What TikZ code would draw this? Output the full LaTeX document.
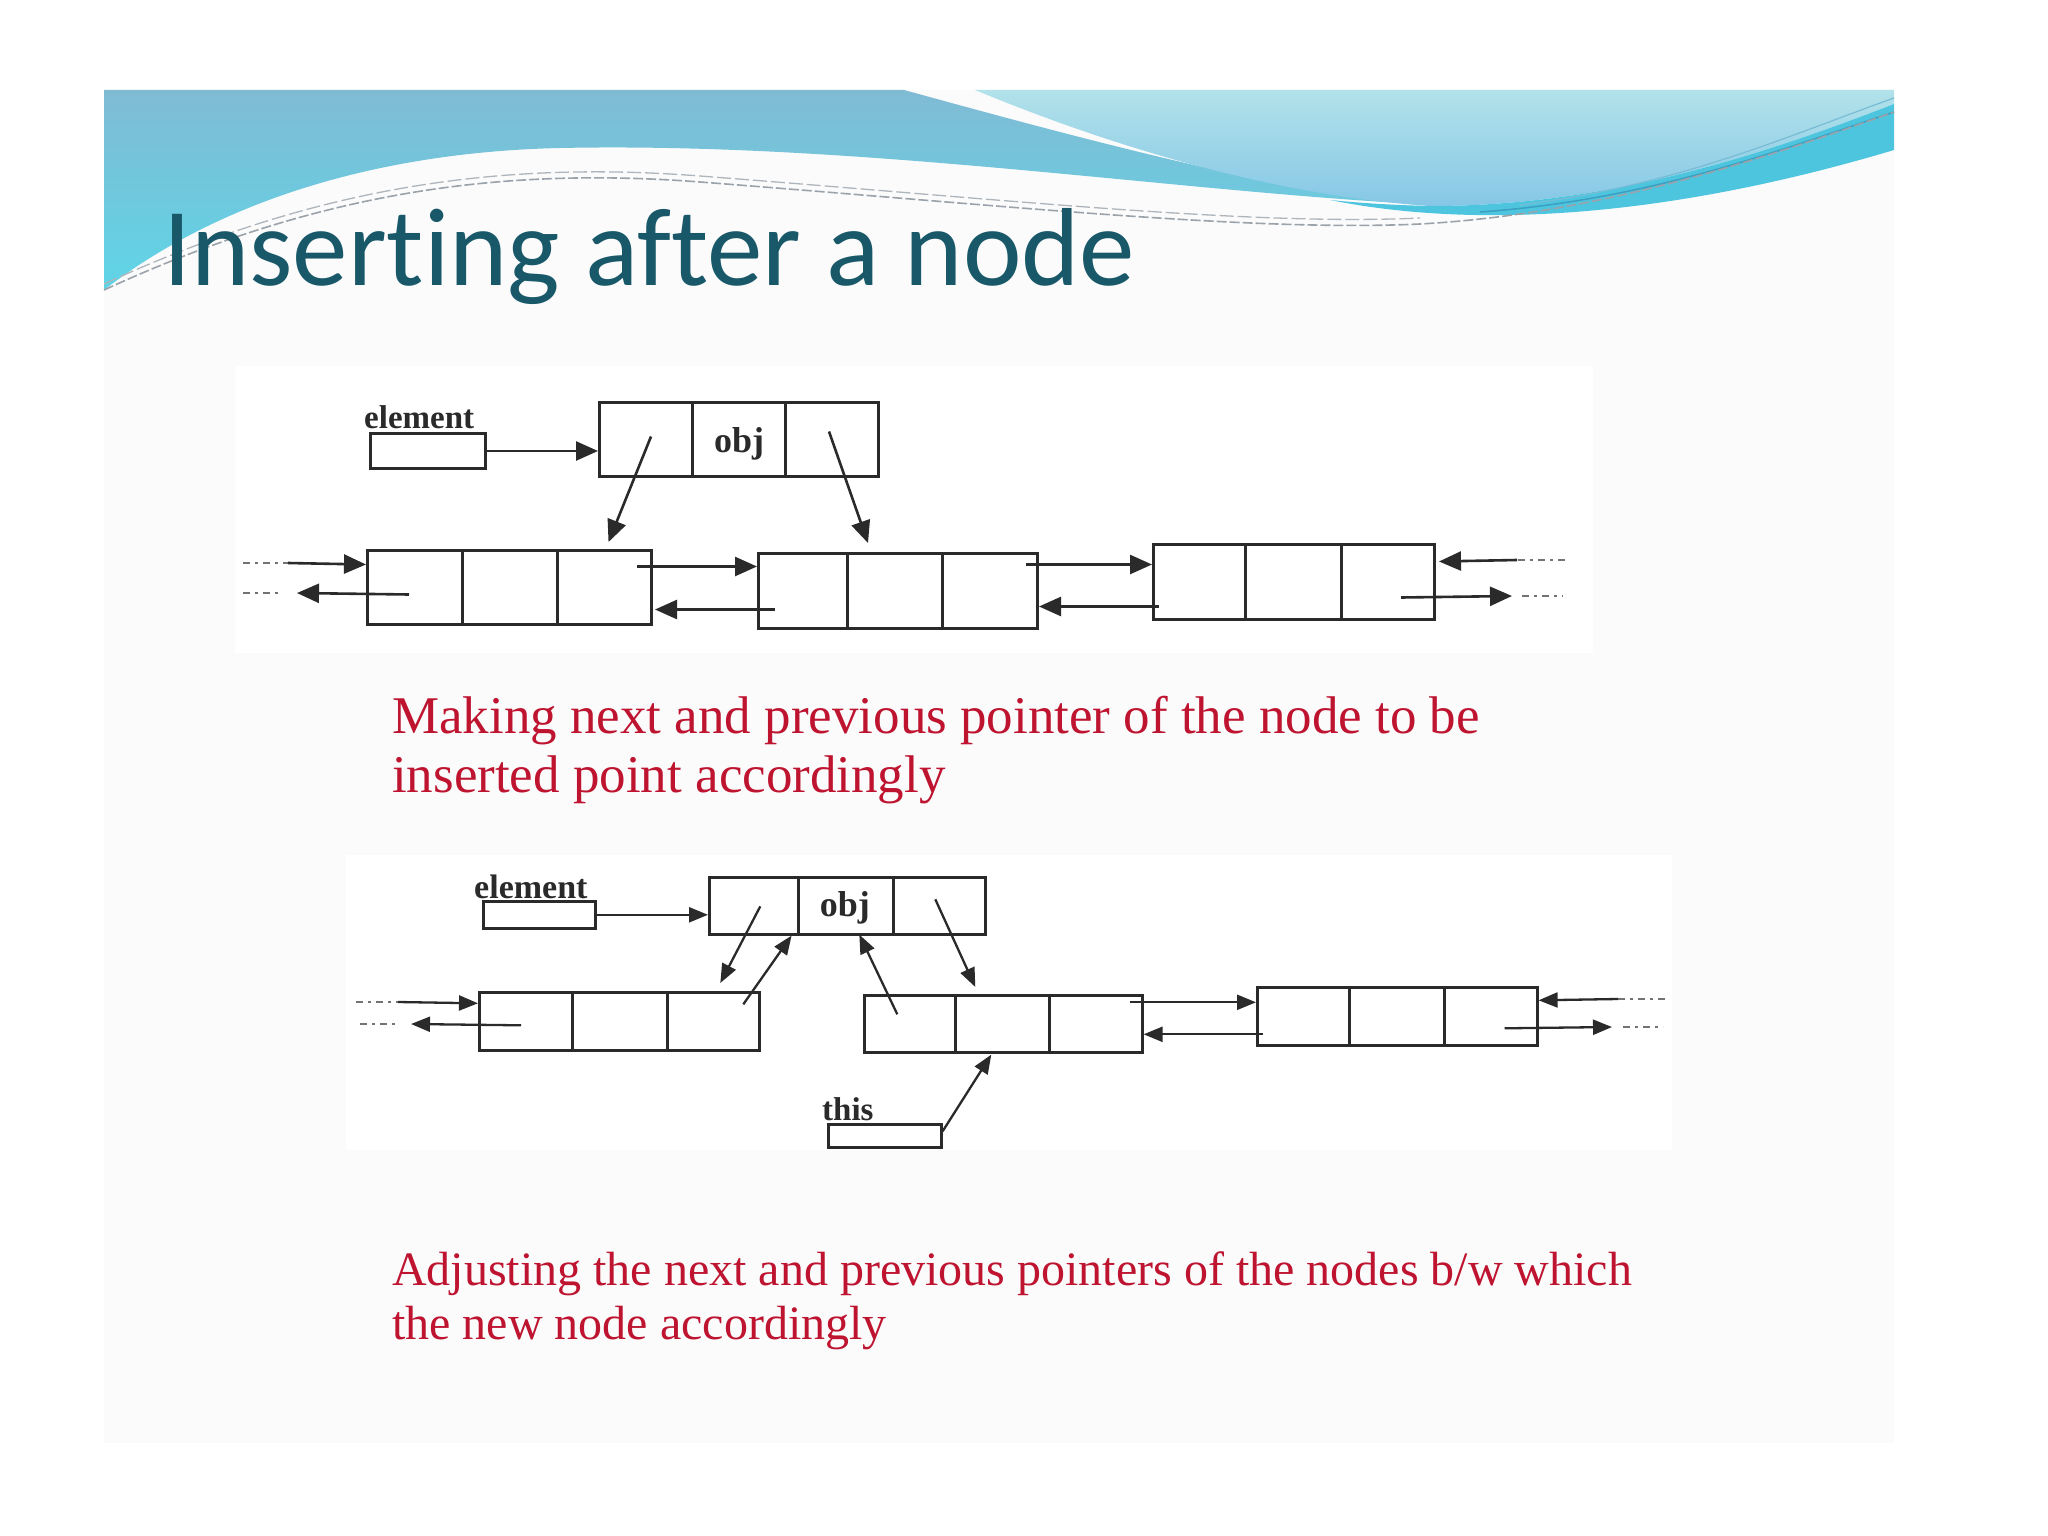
\documentclass[tikz,border=0pt]{standalone}
\usepackage{fontspec}
\setmainfont{Liberation Serif}
\newfontfamily\titlefont[Ligatures=NoCommon]{Carlito}
\usetikzlibrary{arrows.meta,calc}
\definecolor{linec}{HTML}{2A2A2A}
\definecolor{redc}{HTML}{BE1430}
\definecolor{titlec}{HTML}{185868}
\definecolor{slidebg}{HTML}{FBFBFC}
\definecolor{blueTop}{HTML}{80BBD4}
\definecolor{blueBot}{HTML}{5FD5E7}
\definecolor{lightTop}{HTML}{B2E2EA}
\definecolor{lightBot}{HTML}{86C7E6}
\definecolor{cyanband}{HTML}{4EC5DE}
\definecolor{darkstroke}{HTML}{3C9FC2}
\definecolor{grayline}{HTML}{9AA2AA}
\begin{document}
\begin{tikzpicture}[x=1pt,y=-1pt,
  cell/.style={draw=linec, line width=3pt, inner sep=0pt, anchor=north west},
  cellB/.style={cell, line width=2.6pt},
  arrA/.style={draw=linec, line width=2.6pt, -{Triangle[length=22pt,width=19pt]}},
  arrB/.style={draw=linec, line width=2.3pt, -{Triangle[length=19pt,width=15pt]}},
  dotend/.style={draw=gray!90!black, line width=2.2pt, dash pattern=on 7pt off 5pt on 3pt off 5pt},
  lbl/.style={font=\fontsize{33}{36}\selectfont\bfseries, inner sep=0pt, text=linec, anchor=base west},
  objtxt/.style={font=\fontsize{36}{40}\selectfont\bfseries, text=linec},
  redA/.style={font=\fontsize{53}{60}\selectfont, text=redc, inner sep=0pt, anchor=base west},
  redB/.style={font=\fontsize{48}{54}\selectfont, text=redc, inner sep=0pt, anchor=base west}]
\useasboundingbox (0,0) rectangle (2048,1536);
\fill[white] (0,0) rectangle (2048,1536);
\fill[slidebg] (104,90) rectangle (1894,1443);
% diagram backgrounds
\fill[white] (235,366) rectangle (1593,653);
\fill[white] (346,855) rectangle (1672,1150);

% ---- banner ----
\shade[top color=blueTop, bottom color=blueBot]
  (104,90) -- (904,90) .. controls (1050,130) and (1250,185) .. (1400,203)
  .. controls (1150,188) and (850,142) .. (560,148)
  .. controls (380,152) and (220,200) .. (104,290) -- cycle;
\shade[top color=lightTop, bottom color=lightBot]
  (975,90) .. controls (1120,150) and (1280,196) .. (1430,206)
  .. controls (1600,206) and (1750,160) .. (1894,104) -- (1894,90) -- cycle;
\fill[cyanband]
  (1330,200) .. controls (1500,234) and (1700,208) .. (1894,150) -- (1894,104)
  .. controls (1750,160) and (1600,206) .. (1430,206)
  .. controls (1390,205) and (1360,203) .. (1330,200) -- cycle;
\draw[darkstroke, line width=1.5pt] (1480,212) .. controls (1650,200) and (1780,150) .. (1894,112);
\draw[darkstroke!70, line width=1.2pt] (1520,205) .. controls (1680,185) and (1790,135) .. (1894,98);
\draw[grayline, line width=1.6pt, dash pattern=on 10pt off 3pt]
  (104,290) .. controls (300,200) and (480,165) .. (700,182)
  .. controls (1000,205) and (1250,232) .. (1420,224)
  .. controls (1600,214) and (1760,160) .. (1894,112);
\draw[grayline!80, line width=1.3pt, dash pattern=on 14pt off 4pt]
  (104,284) .. controls (300,194) and (480,159) .. (700,176)
  .. controls (1000,199) and (1250,226) .. (1420,218);

% ---- title ----
\node[font=\titlefont\fontsize{111}{120}\selectfont, text=titlec, inner sep=0pt, anchor=base west]
  (title) at (163,285) {Inserting after a node};

% ---- diagram 1 ----
\node[cell, minimum width=115pt, minimum height=35pt] (e1) at (369,432) {};
\node[lbl] (e1l) at (364,428) {element};
\node[cell, minimum width=93pt, minimum height=74pt] (o1a) at (598,401) {};
\node[cell, minimum width=93pt, minimum height=74pt] (o1b) at (691,401) {};
\node[cell, minimum width=93pt, minimum height=74pt] (o1c) at (784,401) {};
\node[objtxt] (o1t) at ($(o1b.center)+(0,4)$) {obj};

\node[cell, minimum width=95pt, minimum height=74pt] (a1) at (366,549) {};
\node[cell, minimum width=95pt, minimum height=74pt] (a2) at (461,549) {};
\node[cell, minimum width=94pt, minimum height=74pt] (a3) at (556,549) {};
\node[cell, minimum width=89pt, minimum height=75pt] (b1) at (757,552) {};
\node[cell, minimum width=95pt, minimum height=75pt] (b2) at (846,552) {};
\node[cell, minimum width=95pt, minimum height=75pt] (b3) at (941,552) {};
\node[cell, minimum width=92pt, minimum height=75pt] (c1) at (1152,543) {};
\node[cell, minimum width=96pt, minimum height=75pt] (c2) at (1244,543) {};
\node[cell, minimum width=93pt, minimum height=75pt] (c3) at (1340,543) {};

\draw[arrA] (e1.east) -- (e1.east -| o1a.west);
\draw[arrA] ($(o1a.center)+(5,-3)$) -- ($(a3.north)+(4,-7)$);
\draw[arrA] ($(o1c.center)+(-3,-8)$) -- ($(b2.north)+(-27,-9)$);

\coordinate (l1a) at (243,563); \coordinate (l1b) at (288,563);
\draw[dotend] (l1a) -- (l1b);
\draw[arrA] (l1b) -- ($(a1.west)+(0,-23)$);
\coordinate (l1c) at (243,593); \coordinate (l1d) at (282,593); \coordinate (l1e) at (297,593);
\draw[dotend] (l1c) -- (l1d);
\draw[arrA] ($(a1.west)+(43,7)$) -- (l1e);
\draw[arrA] ($(a3.east)+(-16,-21)$) -- ($(b1.west)+(0,-24.5)$);
\draw[arrA] ($(b1.west)+(18,18.5)$) -- ($(a3.east)+(2,22)$);
\draw[arrA] ($(b3.east)+(-13,-26.5)$) -- ($(c1.west)+(0,-17.5)$);
\draw[arrA] ($(c1.west)+(7,24.5)$) -- ($(b3.east)+(0,15.5)$);
\coordinate (r1a) at (1565,560); \coordinate (r1b) at (1517,560);
\draw[dotend] (r1a) -- (r1b);
\draw[arrA] (r1b) -- ($(c3.east)+(3,-20.5)$);
\coordinate (r1c) at (1512,596); \coordinate (r1d) at (1522,596); \coordinate (r1e) at (1563,596);
\draw[arrA] ($(c3.east)+(-35,15.5)$) -- (r1c);
\draw[dotend] (r1d) -- (r1e);

% ---- text 1 ----
\node[redA] (t1a) at (392,733) {Making next and previous pointer of the node to be};
\node[redA] (t1b) at (392,792) {inserted point accordingly};

% ---- diagram 2 ----
\node[cellB, minimum width=112pt, minimum height=27pt] (e2) at (482,900) {};
\node[lbl, font=\fontsize{34}{36}\selectfont\bfseries] (e2l) at (474,898) {element};
\node[cellB, minimum width=89pt, minimum height=57pt] (o2a) at (708,876) {};
\node[cellB, minimum width=95pt, minimum height=57pt] (o2b) at (797,876) {};
\node[cellB, minimum width=92pt, minimum height=57pt] (o2c) at (892,876) {};
\node[objtxt] (o2t) at ($(o2b.center)+(-1,2)$) {obj};

\node[cellB, minimum width=93pt, minimum height=58pt] (p1) at (478,991) {};
\node[cellB, minimum width=95pt, minimum height=58pt] (p2) at (571,991) {};
\node[cellB, minimum width=92pt, minimum height=58pt] (p3) at (666,991) {};
\node[cellB, minimum width=91pt, minimum height=57pt] (q1) at (863,994) {};
\node[cellB, minimum width=94pt, minimum height=57pt] (q2) at (954,994) {};
\node[cellB, minimum width=93pt, minimum height=57pt] (q3) at (1048,994) {};
\node[cellB, minimum width=92pt, minimum height=58pt] (s1) at (1256,986) {};
\node[cellB, minimum width=95pt, minimum height=58pt] (s2) at (1348,986) {};
\node[cellB, minimum width=93pt, minimum height=58pt] (s3) at (1443,986) {};

\node[cellB, minimum width=113pt, minimum height=23pt] (th) at (827,1123) {};
\node[lbl] (thl) at (822,1120) {this};

\draw[arrB] (e2.east) -- (e2.east -| o2a.west);
\draw[arrB] ($(o2a.center)+(6.5,0.5)$) -- ($(p3.north)+(7,-8)$);
\draw[arrB] ($(p3.center)+(30,-17)$) -- ($(o2a.south east)+(-8,0)$);
\draw[arrB] ($(q1.center)+(-12.5,-9.5)$) -- ($(o2b.south)+(13.5,-1)$);
\draw[arrB] ($(o2c.center)+(-4,-6.5)$) -- ($(q2.north)+(-27,-7)$);
\draw[arrB] ($(th.east)+(0,-4.5)$) -- ($(q2.south)+(-11,1)$);

\coordinate (l2a) at (356,1002); \coordinate (l2b) at (398,1002);
\draw[dotend] (l2a) -- (l2b);
\draw[arrB] (l2b) -- ($(p1.west)+(0,-18)$);
\coordinate (l2c) at (360,1024); \coordinate (l2d) at (398,1024); \coordinate (l2e) at (411,1024);
\draw[dotend] (l2c) -- (l2d);
\draw[arrB] ($(p1.west)+(43,4)$) -- (l2e);
\draw[arrB] ($(q3.east)+(-14,-21.5)$) -- ($(s1.west)+(0,-14)$);
\draw[arrB] ($(s1.west)+(7,18)$) -- ($(q3.east)+(0,10.5)$);
\coordinate (r2a) at (1665,999); \coordinate (r2b) at (1618,999);
\draw[dotend] (r2a) -- (r2b);
\draw[arrB] (r2b) -- ($(s3.east)+(0,-16)$);
\coordinate (r2c) at (1612,1027); \coordinate (r2d) at (1623,1027); \coordinate (r2e) at (1663,1027);
\draw[arrB] ($(s3.east)+(-34,12)$) -- (r2c);
\draw[dotend] (r2d) -- (r2e);

% ---- text 2 ----
\node[redB] (t2a) at (392,1285) {Adjusting the next and previous pointers of the nodes b/w which};
\node[redB] (t2b) at (392,1339) {the new node accordingly};
\end{tikzpicture}
\end{document}
